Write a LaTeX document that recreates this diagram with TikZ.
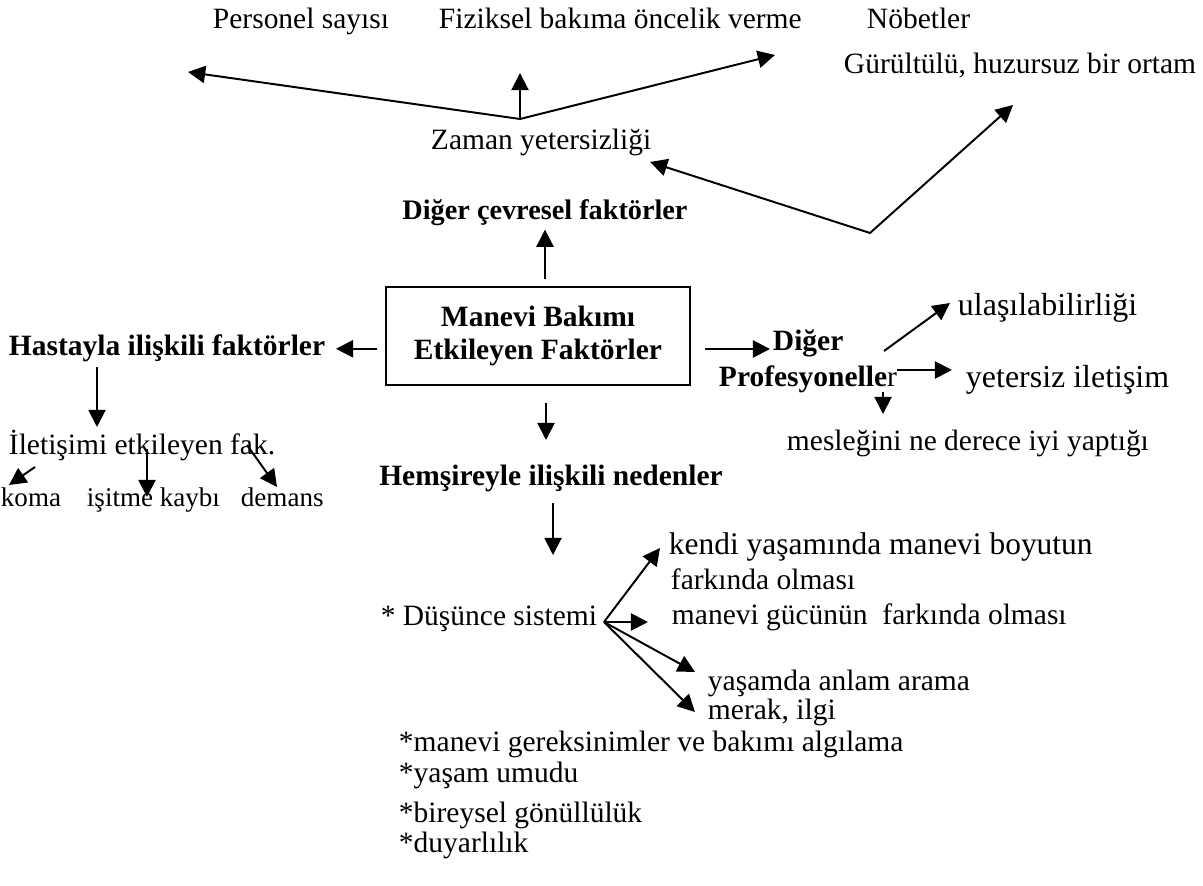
\documentclass[tikz,border=0pt]{standalone}
\usepackage{fontspec}
\setmainfont{Liberation Serif}
\usetikzlibrary{arrows.meta}

\newcommand{\yazi}[1]{\fontsize{#1}{#1}\selectfont}

\begin{document}
\begin{tikzpicture}[x=0.407pt, y=-0.407pt, >={Triangle[length=7pt,width=7pt]},
  line width=0.8pt,
  every node/.style={inner sep=0pt, anchor=base west, font=\yazi{12}},
  baslik/.style={font=\yazi{12}\bfseries},
  kucuk/.style={font=\yazi{11}},
  kutu/.style={draw, anchor=center, align=center, minimum width=124pt,
  minimum height=39.5pt, font=\fontsize{12}{13.4}\selectfont\bfseries}]
  \useasboundingbox (0,0) rectangle (1203,886);
  % ust kisim
  \node (personel) at (212,29) {Personel sayısı};
  \node (fiziksel) at (438,29) {Fiziksel bakıma öncelik verme};
  \node (nobet) at (866,29) {Nöbetler};
  \node (gurultu) at (843,74) {Gürültülü, huzursuz bir ortam};
  \node (zaman) at (430,150) {Zaman yetersizliği};
  \node[baslik, font=\yazi{11.5}\bfseries, anchor=base] (cevre) at (545,220)
    {Diğer çevresel faktörler};
  \coordinate (z0) at (520,119);
  \coordinate (z1) at (188,72);
  \coordinate (z2) at (520,73);
  \coordinate (z3) at (775,55);
  \foreach \t in {z1,z2,z3}
    \draw[->] (z0)--(\t);
  \coordinate (g0) at (650,162);
  \coordinate (g1) at (870,233);
  \coordinate (g2) at (1013,105);
  \draw[<->] (g0)--(g1)--(g2);
  % merkez
  \node[kutu] (manevi) at (538,336) {Manevi Bakımı\\Etkileyen Faktörler};
  \draw[->] ([yshift=3pt]manevi.north -| cevre.south) -- ([yshift=-1pt]cevre.south);
  % hasta
  \node[baslik] (hasta) at (8,356) {Hastayla ilişkili faktörler};
  \node (iletisim) at (8,455) {İletişimi etkileyen fak.};
  \node[kucuk] (koma) at (0,507) {koma};
  \node[kucuk] (isitme) at (86,507) {işitme kaybı};
  \node[kucuk] (demans) at (240,507) {demans};
  \draw[->] ([xshift=-3pt]manevi.west |- hasta.east) -- ([xshift=4pt]hasta.east);
  \draw[->] (97,367) -- (97,427);
  \draw[->] (35,467) -- (9,485);
  \draw[->] (147,449) -- (147,497);
  \draw[->] (247,445) -- (277,487);
  % profesyoneller
  \node[baslik] (diger) at (772,351) {Diğer};
  \node (prof) at (718,387) {\bfseries Profesyonelle\mdseries r};
  \node[font=\yazi{13}] (ulasma) at (957,316) {ulaşılabilirliği};
  \node[font=\yazi{13}] (yetersiz) at (965,388) {yetersiz iletişim};
  \node (meslek) at (786,451) {mesleğini ne derece iyi yaptığı};
  \draw[->] (705,349) -- (770,349);
  \draw[->] (884,351) -- (950,303);
  \draw[->] (897,370) -- (952,370);
  \draw[->] (883,392) -- (883,414);
  % hemsire
  \node[baslik, anchor=base] (hemsire) at (551,486) {Hemşireyle ilişkili nedenler};
  \draw[->] (546,403) -- (546,440);
  \draw[->] (553,503) -- (553,555);
  \node[anchor=base east] (dusunce) at (598,626) {* Düşünce sistemi};
  \node[font=\yazi{12.8}] (kendi) at (668,555) {kendi yaşamında manevi boyutun};
  \node (farkinda) at (670,590) {farkında olması};
  \node (guc) at (671,625) {manevi gücünün\ \ farkında olması};
  \node (anlam) at (707,690) {yaşamda anlam arama};
  \node (merak) at (707,720) {merak, ilgi};
  \coordinate (d0) at (604,622);
  \foreach \x/\y in {660/548, 648/622, 695/672, 695/712}
    \draw[->] (d0) -- (\x,\y);
  \node (gereksinim) at (398,751) {*manevi gereksinimler ve bakımı algılama};
  \node (umut) at (398,782) {*yaşam umudu};
  \node (gonullu) at (398,822) {*bireysel gönüllülük};
  \node (duyarli) at (398,852) {*duyarlılık};
\end{tikzpicture}
\end{document}
